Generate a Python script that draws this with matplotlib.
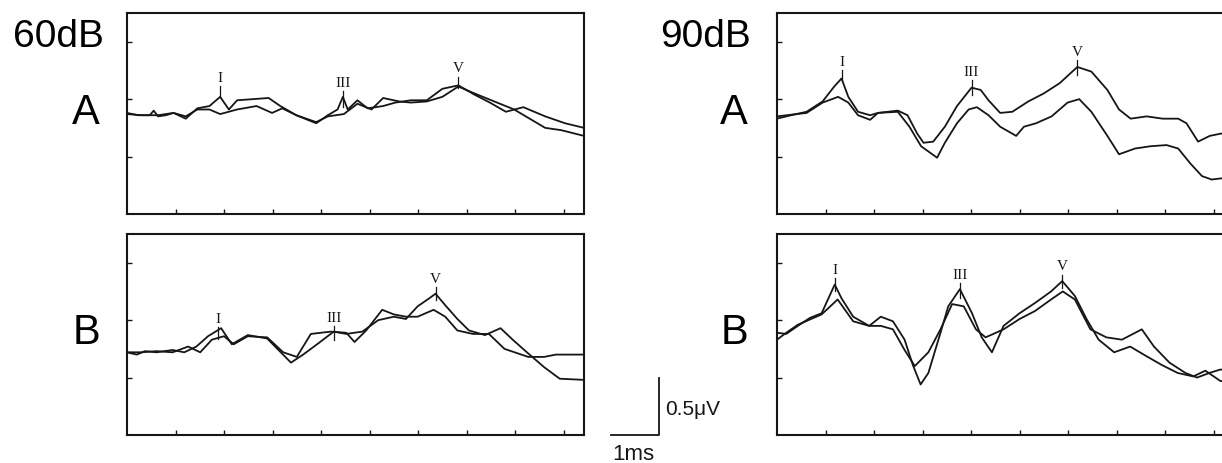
import matplotlib
matplotlib.use("Agg")
import matplotlib.pyplot as plt

# ---------------- data (time in ms, amplitude in microvolts) ----------------
# 60 dB, recording A
t_60A_1 = [0, 0.23, 0.47, 0.55, 0.64, 0.80, 0.96, 1.21, 1.45, 1.70, 1.92, 2.10, 2.27, 2.59, 2.92,
           3.16, 3.49, 3.90, 4.14, 4.34, 4.45, 4.55, 4.75, 4.96, 5.28, 5.53, 5.85, 6.18, 6.50,
           6.83, 7.16, 7.48, 7.81, 8.17, 8.62, 9.03, 9.42]
v_60A_1 = [-0.12, -0.14, -0.14, -0.10, -0.15, -0.14, -0.12, -0.17, -0.08, -0.06, 0.02, -0.09, -0.01,
           0.00, 0.01, -0.06, -0.14, -0.21, -0.14, -0.09, 0.02, -0.09, -0.01, -0.08, -0.06, -0.03,
           -0.01, -0.01, 0.09, 0.12, 0.04, -0.03, -0.11, -0.07, -0.15, -0.21, -0.25]
t_60A_2 = [0, 0.31, 0.64, 0.96, 1.21, 1.45, 1.70, 1.92, 2.27, 2.67, 2.99, 3.20, 3.49, 3.90, 4.14,
           4.47, 4.75, 5.04, 5.28, 5.61, 5.85, 6.18, 6.50, 6.83, 7.16, 7.57, 7.98, 8.30, 8.62,
           8.95, 9.42]
v_60A_2 = [-0.13, -0.14, -0.14, -0.12, -0.15, -0.09, -0.09, -0.13, -0.09, -0.06, -0.12, -0.08, -0.14,
           -0.20, -0.15, -0.13, -0.04, -0.09, 0.01, -0.02, -0.03, -0.02, 0.02, 0.11, 0.05, -0.02,
           -0.09, -0.17, -0.25, -0.27, -0.32]

# 60 dB, recording B
t_60B_1 = [0, 0.20, 0.37, 0.61, 0.94, 1.18, 1.43, 1.67, 1.94, 2.16, 2.49, 2.89, 3.38, 3.63, 3.95,
           4.26, 4.52, 4.85, 5.18, 5.50, 5.75, 5.99, 6.23, 6.36, 6.56, 6.81, 7.05, 7.38, 7.70,
           7.95, 8.27, 8.60, 8.92, 9.42]
v_60B_1 = [-0.28, -0.30, -0.27, -0.28, -0.26, -0.28, -0.23, -0.14, -0.07, -0.21, -0.13, -0.16, -0.37,
           -0.30, -0.20, -0.10, -0.12, -0.10, 0.00, 0.03, 0.01, 0.12, 0.19, 0.23, 0.13, 0.01, -0.09,
           -0.13, -0.07, -0.17, -0.29, -0.41, -0.51, -0.52]
t_60B_2 = [0, 0.29, 0.61, 0.94, 1.26, 1.51, 1.75, 2.00, 2.20, 2.49, 2.89, 3.22, 3.50, 3.79, 4.20,
           4.52, 4.69, 4.93, 5.26, 5.50, 5.75, 5.99, 6.32, 6.56, 6.81, 7.13, 7.46, 7.78, 8.27,
           8.60, 8.84, 9.42]
v_60B_2 = [-0.28, -0.28, -0.27, -0.28, -0.23, -0.28, -0.17, -0.14, -0.21, -0.14, -0.15, -0.28, -0.32,
           -0.12, -0.10, -0.11, -0.19, -0.09, 0.09, 0.05, 0.03, 0.03, 0.09, 0.03, -0.09, -0.12,
           -0.12, -0.25, -0.32, -0.32, -0.30, -0.30]

# 90 dB, recording A
t_90A_1 = [0, 0.29, 0.61, 0.94, 1.18, 1.33, 1.47, 1.67, 1.92, 2.08, 2.49, 2.69, 2.89, 3.02, 3.22,
           3.46, 3.71, 4.01, 4.20, 4.36, 4.60, 4.85, 5.18, 5.50, 5.83, 6.19, 6.48, 6.81, 7.05,
           7.29, 7.62, 7.95, 8.27, 8.44, 8.68, 8.92, 9.15, 9.42]
v_90A_1 = [-0.17, -0.14, -0.11, -0.02, 0.11, 0.18, 0.02, -0.11, -0.14, -0.12, -0.10, -0.14, -0.30,
           -0.38, -0.37, -0.24, -0.06, 0.10, 0.08, -0.01, -0.12, -0.11, -0.02, 0.05, 0.14, 0.28,
           0.24, 0.08, -0.09, -0.17, -0.15, -0.17, -0.17, -0.21, -0.37, -0.32, -0.30, -0.31]
t_90A_2 = [0, 0.61, 0.94, 1.26, 1.47, 1.67, 1.92, 2.08, 2.49, 2.73, 2.97, 3.30, 3.46, 3.71, 3.95,
           4.12, 4.36, 4.60, 4.93, 5.09, 5.34, 5.66, 5.99, 6.23, 6.48, 6.81, 7.05, 7.38, 7.70,
           8.03, 8.27, 8.52, 8.76, 8.96, 9.15, 9.42]
v_90A_2 = [-0.15, -0.12, -0.03, 0.02, -0.03, -0.14, -0.18, -0.12, -0.11, -0.24, -0.41, -0.51, -0.38,
           -0.21, -0.09, -0.07, -0.14, -0.24, -0.32, -0.24, -0.21, -0.15, -0.03, 0.00, -0.11, -0.32,
           -0.48, -0.43, -0.41, -0.40, -0.43, -0.56, -0.67, -0.70, -0.69, -0.69]

# 90 dB, recording B
t_90B_1 = [0, 0.19, 0.43, 0.68, 0.92, 1.19, 1.33, 1.57, 1.90, 2.14, 2.39, 2.63, 2.80, 2.96, 3.12,
           3.37, 3.53, 3.77, 4.02, 4.22, 4.43, 4.67, 5.00, 5.32, 5.65, 5.88, 6.14, 6.38, 6.63,
           6.95, 7.28, 7.60, 7.93, 8.26, 8.58, 8.83, 9.14, 9.42]
v_90B_1 = [-0.11, -0.12, -0.05, 0.02, 0.06, 0.31, 0.19, 0.03, -0.05, 0.03, -0.01, -0.17, -0.39,
           -0.56, -0.46, -0.11, 0.12, 0.27, 0.06, -0.15, -0.28, -0.05, 0.06, 0.15, 0.25, 0.34,
           0.21, 0.01, -0.17, -0.28, -0.23, -0.31, -0.39, -0.46, -0.49, -0.44, -0.53, -0.54]
t_90B_2 = [0, 0.19, 0.43, 0.92, 1.25, 1.57, 1.90, 2.14, 2.39, 2.63, 2.84, 3.12, 3.37, 3.61, 3.85,
           4.10, 4.30, 4.67, 5.00, 5.32, 5.65, 5.89, 6.14, 6.46, 6.79, 7.11, 7.52, 7.77, 8.09,
           8.42, 8.66, 8.91, 9.14, 9.42]
v_90B_2 = [-0.17, -0.11, -0.04, 0.05, 0.18, -0.01, -0.05, -0.05, -0.08, -0.26, -0.40, -0.28, -0.08,
           0.14, 0.12, -0.08, -0.15, -0.08, 0.01, 0.08, 0.18, 0.25, 0.18, -0.08, -0.15, -0.17,
           -0.08, -0.23, -0.37, -0.46, -0.50, -0.46, -0.43, -0.44]

# wave labels and their marker positions (time, marker bottom, marker top)
wave_names = ["I", "III", "V"]
peaks_60A_t = [1.92, 4.45, 6.83]
peaks_60A_lo = [0.023, -0.07, 0.096]
peaks_60A_hi = [0.116, 0.067, 0.197]
peaks_60B_t = [1.87, 4.26, 6.36]
peaks_60B_lo = [-0.16, -0.174, 0.174]
peaks_60B_hi = [-0.058, -0.052, 0.29]
peaks_90A_t = [1.33, 4.01, 6.19]
peaks_90A_lo = [0.168, 0.038, 0.212]
peaks_90A_hi = [0.255, 0.168, 0.342]
peaks_90B_t = [1.19, 3.77, 5.88]
peaks_90B_lo = [0.252, 0.194, 0.281]
peaks_90B_hi = [0.368, 0.325, 0.397]

level_labels = ["60dB", "90dB"]
row_labels = ["A", "B"]

# ---------------- figure ----------------
W, H = 1222, 463
fig = plt.figure(figsize=(W / 100, H / 100), dpi=100)
SANS = ["Liberation Sans", "DejaVu Sans"]
SERIF = ["Liberation Serif", "DejaVu Serif"]
INK = "#161616"


def make_ax(x0, y0):
    ax = fig.add_axes([x0 / W, 1 - (y0 + 201) / H, 457 / W, 201 / H])
    ax.set_xlim(0, 9.42)
    ax.set_ylim(-1.0, 0.75)
    ax.set_xticks(range(1, 10))
    ax.set_yticks([-0.5, 0, 0.5])
    ax.tick_params(direction="in", length=3.5, width=1.0, color=INK,
                   labelbottom=False, labelleft=False)
    for s in ax.spines.values():
        s.set_linewidth(1.5)
        s.set_color(INK)
    return ax


panels = [
    (127, 13, (t_60A_1, v_60A_1), (t_60A_2, v_60A_2), (peaks_60A_t, peaks_60A_lo, peaks_60A_hi)),
    (127, 234, (t_60B_1, v_60B_1), (t_60B_2, v_60B_2), (peaks_60B_t, peaks_60B_lo, peaks_60B_hi)),
    (777, 13, (t_90A_1, v_90A_1), (t_90A_2, v_90A_2), (peaks_90A_t, peaks_90A_lo, peaks_90A_hi)),
    (777, 234, (t_90B_1, v_90B_1), (t_90B_2, v_90B_2), (peaks_90B_t, peaks_90B_lo, peaks_90B_hi)),
]

axes = []
for x0, y0, tr1, tr2, pk in panels:
    ax = make_ax(x0, y0)
    ax.plot(tr1[0], tr1[1], color=INK, lw=1.3)
    ax.plot(tr2[0], tr2[1], color=INK, lw=1.3)
    for name, pt, lo, hi in zip(wave_names, pk[0], pk[1], pk[2]):
        ax.plot([pt, pt], [lo, hi], color=INK, lw=0.9)
        ax.text(pt, hi + 0.01, name, ha="center", va="bottom", family=SERIF,
                fontsize=11, color=INK)
    axes.append(ax)

# scale bar on the lower-left panel (1 ms, 0.5 uV)
axb = axes[1]
axb.plot([9.97, 10.97, 10.97], [-1.0, -1.0, -0.5], color=INK, lw=1.3, clip_on=False)
axb.text(11.1, -0.78, "0.5\u03bcV", ha="left", va="center", family=SANS, fontsize=15, color=INK)
axb.text(10.43, -1.17, "1ms", ha="center", va="center", family=SANS, fontsize=16, color=INK)

# level and row labels
fig.text(58 / W, 1 - 37 / H, level_labels[0], ha="center", va="center", family=SANS, fontsize=28)
fig.text(706 / W, 1 - 37 / H, level_labels[1], ha="center", va="center", family=SANS, fontsize=28)
fig.text(86 / W, 1 - 113 / H, row_labels[0], ha="center", va="center", family=SANS, fontsize=30)
fig.text(86 / W, 1 - 333 / H, row_labels[1], ha="center", va="center", family=SANS, fontsize=30)
fig.text(734 / W, 1 - 113 / H, row_labels[0], ha="center", va="center", family=SANS, fontsize=30)
fig.text(734 / W, 1 - 333 / H, row_labels[1], ha="center", va="center", family=SANS, fontsize=30)

fig.savefig("out.png", dpi=100)
